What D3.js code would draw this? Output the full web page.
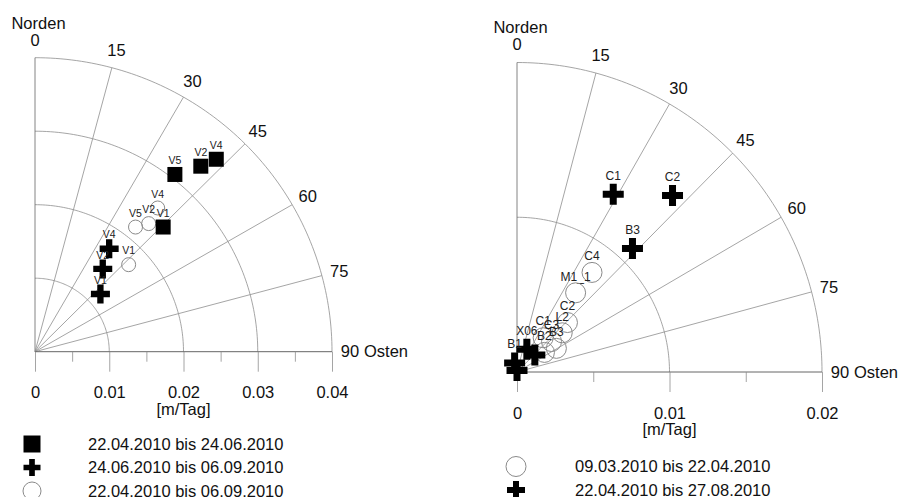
<!DOCTYPE html>
<html>
<head>
<meta charset="utf-8">
<script src="https://cdn.jsdelivr.net/npm/d3@7"></script>
<style>
  body { margin: 0; background: #fff; }
  svg { display: block; font-family: "Liberation Sans", Arial, sans-serif; }
</style>
</head>
<body>
<svg id="chart" width="904" height="497"></svg>
<script>
// Richtungen der Gitterlinien (Grad, von Norden im Uhrzeigersinn)
const angleTicks = [0, 15, 30, 45, 60, 75, 90];

// linkes Diagramm
const leftTicks = [0, 0.01, 0.02, 0.03, 0.04];
const leftMinorTicks = [0.005, 0.015, 0.025, 0.035];
const leftLegend = ["22.04.2010 bis 24.06.2010", "24.06.2010 bis 06.09.2010", "22.04.2010 bis 06.09.2010"];
const leftSquareNames = ["V5", "V2", "V4", "V1"];
const leftSquareSpeed = [0.0306, 0.0337, 0.0358, 0.0242];
const leftSquareDir = [38.0, 41.5, 43.0, 45.5];
const leftCrossNames = ["V4", "V2", "V1"];
const leftCrossSpeed = [0.0172, 0.0145, 0.0118];
const leftCrossDir = [35.5, 39.0, 48.3];
const leftCircleNames = ["V4", "V5", "V2", "V1"];
const leftCircleSpeed = [0.0256, 0.0217, 0.0232, 0.0173];
const leftCircleDir = [40.2, 38.6, 41.3, 46.8];

// rechtes Diagramm
const rightTicks = [0, 0.01, 0.02];
const rightMinorTicks = [0.005, 0.015];
const rightLegend = ["09.03.2010 bis 22.04.2010", "22.04.2010 bis 27.08.2010"];
const rightCircleNames = ["C4", "M1_1", "C2", "L2", "C1", "C3", "B3", "B2"];
const rightCircleSpeed = [0.0081, 0.0064, 0.0046, 0.0039, 0.0028, 0.0030, 0.0030, 0.0022];
const rightCircleDir = [37.4, 36.9, 46.0, 49.5, 37.8, 49.0, 59.4, 54.9];
const rightCrossNames = ["C1", "C2", "B3", "X06", "", "B1", ""];
const rightCrossSpeed = [0.0131, 0.0153, 0.0110, 0.0016, 0.0016, 0.0006, 0.0001];
const rightCrossDir = [28.8, 41.8, 43.5, 23.8, 47.0, -15.0, 0];

const svg = d3.select("#chart");
const gridColor = "#8e8e8e";
const rad = a => a * Math.PI / 180;

function series(names, speed, dir) {
    return names.map((n, i) => ({ name: n, r: speed[i], a: dir[i] }));
}

function marker(sel, type, size) {
    if (type === "circle") {
        sel.append("circle").attr("r", size)
            .attr("fill", "none").attr("stroke", "#8a8a8a").attr("stroke-width", 1);
    } else {
        const sym = type === "square" ? d3.symbolSquare : d3.symbolCross;
        const area = type === "square" ? size * size : Math.pow(size / 3, 2) * 5;
        sel.append("path").attr("d", d3.symbol(sym, area)()).attr("fill", "#000");
    }
}

function drawPanel(p) {
    const g = svg.append("g");
    const rmax = d3.max(p.ticks);
    const x = d3.scaleLinear().domain([0, rmax]).range([p.ox, p.ox + p.rx]);
    const y = d3.scaleLinear().domain([0, rmax]).range([p.oy, p.oy - p.ry]);
    const px = (r, a) => x(r * Math.sin(rad(a)));
    const py = (r, a) => y(r * Math.cos(rad(a)));

    // Ringe
    const arcLine = d3.line().x(d => px(d[0], d[1])).y(d => py(d[0], d[1]));
    g.selectAll(".ring").data(p.ticks.slice(1)).join("path")
        .attr("d", r => arcLine(d3.range(0, 91).map(a => [r, a])))
        .attr("fill", "none").attr("stroke", gridColor).attr("stroke-width", 0.8);

    // Strahlen
    g.selectAll(".spoke").data(angleTicks).join("line")
        .attr("x1", px(0, 0)).attr("y1", py(0, 0))
        .attr("x2", a => px(rmax, a)).attr("y2", a => py(rmax, a))
        .attr("stroke", a => a === 90 || a === 0 ? "#666" : gridColor)
        .attr("stroke-width", a => a === 90 ? 1 : 0.8);

    // Winkelbeschriftung
    const k = 1 + 18 / p.rx;
    g.selectAll(".alab").data(angleTicks).join("text")
        .attr("x", a => px(rmax * k, a)).attr("y", a => py(rmax * k, a))
        .attr("text-anchor", "middle").attr("dy", "0.35em")
        .attr("font-size", 16.5).attr("fill", "#111")
        .text(a => a);
    g.append("text")
        .attr("x", px(rmax * k, 0) + 3.5).attr("y", py(rmax * k, 0) - 17)
        .attr("text-anchor", "middle").attr("dy", "0.35em")
        .attr("font-size", 16.5).attr("fill", "#111").text("Norden");
    g.append("text")
        .attr("x", px(rmax * k, 90) + 14).attr("y", py(rmax * k, 90))
        .attr("dy", "0.35em").attr("font-size", 16.5).attr("fill", "#111").text("Osten");

    // Achse
    const axis = g.append("g").attr("transform", `translate(0,${p.oy})`)
        .call(d3.axisBottom(x).tickValues(p.ticks).tickSize(20).tickPadding(15)
            .tickFormat(d => d === 0 ? "0" : d.toFixed(2)));
    axis.select(".domain").remove();
    axis.selectAll("line").attr("stroke", gridColor).attr("stroke-width", 0.8);
    axis.selectAll("text").attr("font-size", 16.5).attr("font-family", null).attr("fill", "#111");
    const minor = g.append("g").attr("transform", `translate(0,${p.oy})`)
        .call(d3.axisBottom(x).tickValues(p.minor).tickSize(10).tickFormat(""));
    minor.select(".domain").remove();
    minor.selectAll("line").attr("stroke", gridColor).attr("stroke-width", 0.8);
    g.append("text")
        .attr("x", x(rmax / 2)).attr("y", p.oy + 63)
        .attr("text-anchor", "middle").attr("font-size", 16.5).attr("fill", "#111")
        .text("[m/Tag]");

    // Messpunkte
    p.series.forEach(s => {
        const pts = g.append("g").selectAll("g").data(s.data).join("g")
            .attr("transform", d => `translate(${px(d.r, d.a)},${py(d.r, d.a)})`);
        pts.append("text")
            .attr("y", -s.labelDy).attr("dy", "0.35em")
            .attr("text-anchor", "middle").attr("font-size", s.font).attr("fill", "#222")
            .text(d => d.name);
        pts.call(marker, s.type, s.size);
    });

    // Legende
    const leg = g.selectAll(".leg").data(p.legend).join("g")
        .attr("transform", (d, i) => `translate(${p.legendX},${p.legendY + i * 23.5})`);
    leg.each(function (d, i) {
        const s = p.legendTypes[i];
        d3.select(this).call(marker, s.type, s.size);
    });
    leg.append("text")
        .attr("x", p.legendTextX - p.legendX).attr("dy", "0.35em")
        .attr("font-size", 16.5).attr("fill", "#111")
        .text(d => d);
}

drawPanel({
    ox: 35, oy: 351.7, rx: 297, ry: 294,
    ticks: leftTicks, minor: leftMinorTicks,
    series: [
        { data: series(leftCircleNames, leftCircleSpeed, leftCircleDir), type: "circle", size: 7, labelDy: 14, font: 10.5 },
        { data: series(leftSquareNames, leftSquareSpeed, leftSquareDir), type: "square", size: 15, labelDy: 14, font: 10.5 },
        { data: series(leftCrossNames, leftCrossSpeed, leftCrossDir), type: "cross", size: 19, labelDy: 14, font: 10.5 }
    ],
    legend: leftLegend,
    legendTypes: [{ type: "square", size: 17 }, { type: "cross", size: 17 }, { type: "circle", size: 9 }],
    legendX: 32, legendY: 444, legendTextX: 88
});

drawPanel({
    ox: 517, oy: 372, rx: 305, ry: 309.5,
    ticks: rightTicks, minor: rightMinorTicks,
    series: [
        { data: series(rightCircleNames, rightCircleSpeed, rightCircleDir), type: "circle", size: 10, labelDy: 16.5, font: 12 },
        { data: series(rightCrossNames, rightCrossSpeed, rightCrossDir), type: "cross", size: 21, labelDy: 19, font: 12 }
    ],
    legend: rightLegend,
    legendTypes: [{ type: "circle", size: 10 }, { type: "cross", size: 18 }],
    legendX: 516, legendY: 466.5, legendTextX: 575
});
</script>
</body>
</html>
